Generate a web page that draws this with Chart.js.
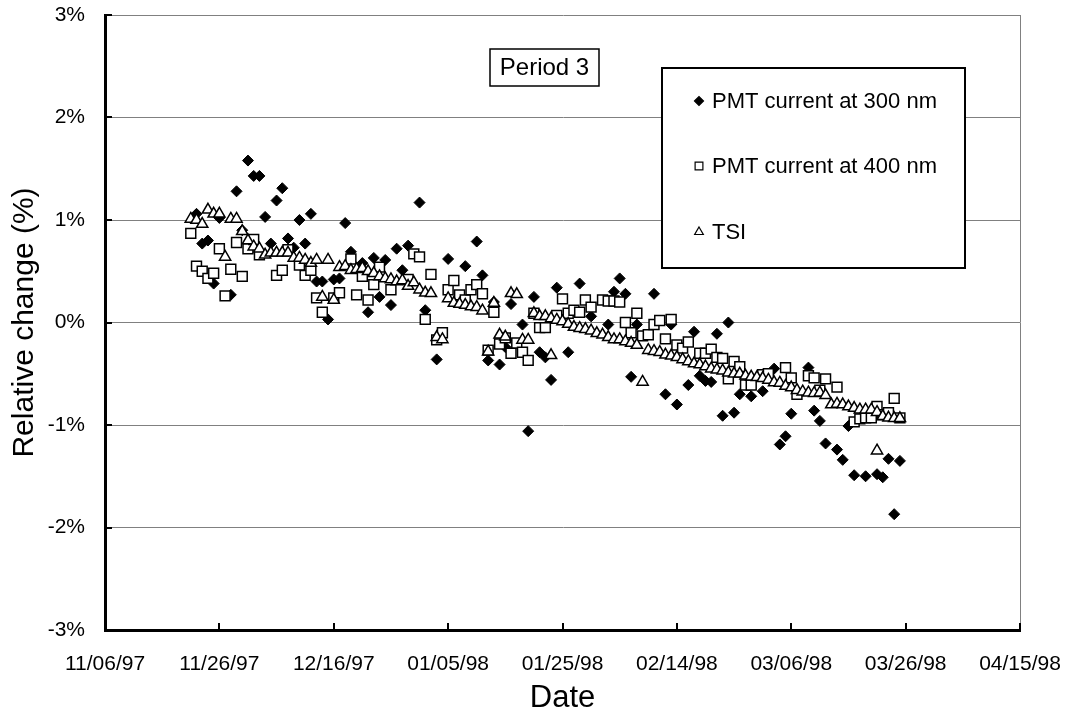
<!DOCTYPE html>
<html>
<head>
<meta charset="utf-8">
<script src="https://cdn.jsdelivr.net/npm/chart.js@4.4.1/dist/chart.umd.min.js"></script>
<style>
  html, body { margin: 0; padding: 0; background: #fff; }
  #wrap { width: 1070px; height: 717px; }
</style>
</head>
<body>
<div id="wrap"><canvas id="chart" width="1070" height="717"></canvas></div>
<script>
/* tick labels of the date axis (every 20 days from 11/06/97) */
const dateLabels = ['11/06/97', '11/26/97', '12/16/97', '01/05/98', '01/25/98',
  '02/14/98', '03/06/98', '03/26/98', '04/15/98'];

/* days counted from 11/06/97 */
const pmt300Days = [16, 17, 18, 19, 20, 22, 23, 24, 25, 26, 27, 28, 29, 30, 31, 32, 33, 34, 35, 36,
  37, 38, 39, 40, 41, 42, 43, 45, 46, 47, 48, 49, 50, 51, 52, 53, 55, 56, 58, 60,
  63, 65, 66, 67, 68, 69, 70, 71, 73, 74, 75, 76, 77, 78, 79, 81, 83, 85, 88, 89,
  90, 91, 92, 93, 96, 98, 99, 100, 102, 103, 104, 105, 106, 107, 108, 109, 110, 111, 113, 115,
  117, 118, 119, 120, 123, 124, 125, 126, 128, 129, 130, 131, 133, 135, 136, 137, 138, 139];
const pmt300 = [1.06, 0.77, 0.80, 0.38, 1.02, 0.27, 1.28, 0.90, 1.58, 1.43, 1.43, 1.03, 0.77, 1.19, 1.31, 0.82, 0.73, 1.00, 0.77, 1.06,
  0.40, 0.40, 0.03, 0.42, 0.43, 0.97, 0.69, 0.58, 0.10, 0.63, 0.25, 0.61, 0.17, 0.72, 0.51, 0.75, 1.17, 0.12, -0.36, 0.62,
  0.55, 0.79, 0.46, -0.37, 0.20, -0.41, -0.24, 0.18, -0.02, -1.06, 0.25, -0.29, -0.34, -0.56, 0.34, -0.29, 0.38, 0.06, -0.02, 0.30,
  0.43, 0.28, -0.53, -0.02, 0.28, -0.70, -0.02, -0.80, -0.61, -0.09, -0.52, -0.57, -0.58, -0.11, -0.91, 0.00, -0.88, -0.70, -0.72, -0.67,
  -0.45, -1.19, -1.11, -0.89, -0.44, -0.86, -0.96, -1.18, -1.24, -1.34, -1.01, -1.49, -1.50, -1.48, -1.51, -1.33, -1.87, -1.35];

const pmt400Days = [15, 16, 17, 18, 19, 20, 21, 22, 23, 24, 25, 26, 27, 30, 31, 32, 34, 35, 36, 37,
  38, 40, 41, 43, 44, 45, 46, 47, 48, 50, 53, 54, 55, 56, 57, 58, 59, 60, 61, 62,
  63, 64, 65, 66, 67, 68, 69, 70, 71, 72, 73, 74, 75, 76, 77, 79, 80, 81, 82, 83,
  84, 85, 87, 88, 89, 90, 91, 92, 93, 94, 95, 96, 97, 98, 99, 100, 101, 102, 104, 105,
  106, 107, 108, 109, 110, 111, 112, 113, 115, 116, 119, 120, 121, 123, 124, 125, 126, 128, 131, 132,
  133, 134, 135, 136, 137, 138, 139];
const pmt400 = [0.87, 0.55, 0.50, 0.43, 0.48, 0.72, 0.26, 0.52, 0.78, 0.45, 0.72, 0.81, 0.66, 0.46, 0.51, 0.71, 0.56, 0.46, 0.51, 0.24,
  0.10, 0.24, 0.29, 0.62, 0.27, 0.45, 0.22, 0.37, 0.54, 0.32, 0.42, 0.67, 0.64, 0.03, 0.47, -0.17, -0.10, 0.32, 0.41, 0.27,
  0.22, 0.32, 0.37, 0.28, -0.27, 0.10, -0.21, -0.15, -0.30, -0.20, -0.29, -0.37, 0.09, -0.05, -0.05, 0.07, 0.23, 0.09, 0.12, 0.10,
  0.22, 0.15, 0.22, 0.21, 0.21, 0.20, 0.00, -0.10, 0.09, -0.13, -0.12, -0.02, 0.02, -0.16, 0.03, -0.22, -0.25, -0.19, -0.30, -0.30,
  -0.26, -0.34, -0.35, -0.55, -0.38, -0.43, -0.61, -0.61, -0.51, -0.50, -0.44, -0.54, -0.70, -0.52, -0.54, -0.66, -0.55, -0.63, -0.97, -0.94,
  -0.93, -0.93, -0.82, -0.90, -0.88, -0.74, -0.93];

const tsiDays = [15, 16, 17, 18, 19, 20, 21, 22, 23, 24, 25, 26, 27, 28, 29, 30, 31, 32, 33, 34,
  35, 36, 37, 38, 39, 40, 41, 42, 43, 44, 45, 46, 47, 48, 49, 50, 51, 52, 53, 54,
  55, 56, 57, 58, 59, 60, 61, 62, 63, 64, 65, 66, 67, 68, 69, 70, 71, 72, 73, 74,
  75, 76, 77, 78, 78, 79, 80, 81, 82, 83, 84, 85, 86, 87, 88, 89, 90, 91, 92, 93,
  94, 95, 96, 97, 98, 99, 100, 101, 102, 103, 104, 105, 106, 107, 108, 109, 110, 111, 112, 113,
  114, 115, 116, 117, 118, 119, 120, 121, 122, 123, 124, 125, 126, 127, 128, 129, 130, 131, 132, 133,
  134, 135, 135, 136, 137, 138, 139];
const tsi = [1.01, 1.00, 0.96, 1.10, 1.06, 1.06, 0.64, 1.01, 1.01, 0.89, 0.80, 0.74, 0.72, 0.66, 0.68, 0.68, 0.68, 0.68, 0.63, 0.63,
  0.61, 0.58, 0.61, 0.25, 0.61, 0.22, 0.54, 0.55, 0.51, 0.52, 0.53, 0.50, 0.48, 0.45, 0.43, 0.42, 0.40, 0.41, 0.355, 0.39,
  0.32, 0.29, 0.285, -0.145, -0.165, 0.235, 0.19, 0.18, 0.17, 0.155, 0.15, 0.115, -0.285, 0.19, -0.12, -0.14, 0.285, 0.275, -0.17, -0.17,
  0.09, 0.06, 0.06, 0.04, -0.32, 0.025, 0.01, -0.015, -0.045, -0.055, -0.065, -0.08, -0.105, -0.12, -0.145, -0.165, -0.165, -0.185, -0.20, -0.22,
  -0.58, -0.27, -0.28, -0.29, -0.315, -0.325, -0.34, -0.36, -0.38, -0.40, -0.41, -0.43, -0.45, -0.46, -0.47, -0.49, -0.50, -0.50, -0.52, -0.53,
  -0.535, -0.545, -0.56, -0.585, -0.59, -0.62, -0.635, -0.66, -0.675, -0.685, -0.69, -0.685, -0.71, -0.80, -0.795, -0.80, -0.82, -0.835, -0.85, -0.85,
  -0.85, -0.875, -1.25, -0.915, -0.93, -0.935, -0.935];

const seriesNames = ['PMT current at 300 nm', 'PMT current at 400 nm', 'TSI'];

function toPoints(days, values) {
  return days.map((d, i) => ({ x: d, y: values[i] }));
}

const FONT = "'Liberation Sans', Arial, sans-serif";

// no extra room for labels sticking out, keeps the plot box where it is
function fixBox(size, key) {
  return scale => {
    scale[key] = size;
    scale.paddingTop = scale.paddingBottom = scale.paddingLeft = scale.paddingRight = 0;
  };
}

// ticks inside the plot + grey right border
const frame = {
  id: 'frame',
  beforeDatasetsDraw(chart) {
    const { ctx, chartArea: a, scales } = chart;
    ctx.save();
    ctx.strokeStyle = '#808080';
    ctx.lineWidth = 1;
    ctx.beginPath();
    ctx.moveTo(a.right + 0.5, a.top);
    ctx.lineTo(a.right + 0.5, a.bottom);
    ctx.stroke();
    ctx.strokeStyle = '#000';
    ctx.lineWidth = 2;
    scales.x.ticks.forEach(t => {
      const px = Math.round(scales.x.getPixelForValue(t.value));
      ctx.beginPath();
      ctx.moveTo(px, a.bottom);
      ctx.lineTo(px, a.bottom - 7);
      ctx.stroke();
    });
    scales.y.ticks.forEach(t => {
      const py = Math.round(scales.y.getPixelForValue(t.value));
      ctx.beginPath();
      ctx.moveTo(a.left, py);
      ctx.lineTo(a.left + 7, py);
      ctx.stroke();
    });
    ctx.restore();
  }
};

// legend box and "Period 3" label
const boxes = {
  id: 'boxes',
  afterDraw(chart) {
    const ctx = chart.ctx;
    ctx.save();
    // Period 3
    ctx.fillStyle = '#fff';
    ctx.fillRect(490, 49, 109, 37);
    ctx.strokeStyle = '#000';
    ctx.lineWidth = 1.5;
    ctx.strokeRect(490, 49, 109, 37);
    ctx.fillStyle = '#000';
    ctx.font = '24px ' + FONT;
    ctx.textAlign = 'center';
    ctx.textBaseline = 'middle';
    ctx.fillText('Period 3', 544.5, 68);

    // legend
    ctx.fillStyle = '#fff';
    ctx.fillRect(662, 68, 303, 200);
    ctx.lineWidth = 2;
    ctx.strokeRect(662, 68, 303, 200);
    const rows = [101, 166, 232];
    const styles = [
      { pointStyle: 'rectRot', radius: 4.5, fill: '#000' },
      { pointStyle: 'rect', radius: 5.5, fill: '#fff' },
      { pointStyle: 'triangle', radius: 5, fill: '#fff' }
    ];
    ctx.font = '22px ' + FONT;
    ctx.textAlign = 'left';
    rows.forEach((y, i) => {
      ctx.fillStyle = styles[i].fill;
      ctx.strokeStyle = '#000';
      ctx.lineWidth = 1.2;
      Chart.helpers.drawPoint(ctx, { pointStyle: styles[i].pointStyle, radius: styles[i].radius, rotation: 0, borderWidth: 1.2 }, 699, y);
      ctx.fillStyle = '#000';
      ctx.fillText(seriesNames[i], 712, y + 1);
    });
    ctx.restore();
  }
};

new Chart(document.getElementById('chart'), {
  type: 'scatter',
  data: {
    datasets: [
      {
        label: seriesNames[0],
        data: toPoints(pmt300Days, pmt300),
        pointStyle: 'rectRot',
        pointRadius: 5.5,
        backgroundColor: '#000',
        borderColor: '#000',
        borderWidth: 1,
        order: 2
      },
      {
        label: seriesNames[1],
        data: toPoints(pmt400Days, pmt400),
        pointStyle: 'rect',
        pointRadius: 7,
        backgroundColor: '#fff',
        borderColor: '#000',
        borderWidth: 1.5,
        order: 1
      },
      {
        label: seriesNames[2],
        data: toPoints(tsiDays, tsi),
        pointStyle: 'triangle',
        pointRadius: 6.5,
        backgroundColor: '#fff',
        borderColor: '#000',
        borderWidth: 1.5,
        order: 0
      }
    ]
  },
  options: {
    responsive: false,
    animation: false,
    events: [],
    layout: { padding: { top: 15, right: 50, left: 0, bottom: 0 } },
    plugins: {
      legend: { display: false },
      tooltip: { enabled: false }
    },
    scales: {
      x: {
        type: 'linear',
        min: 0,
        max: 160,
        afterFit: fixBox(87, 'height'),
        grid: { display: false, drawTicks: false },
        border: { display: true, color: '#000', width: 3 },
        ticks: {
          stepSize: 20,
          autoSkip: false,
          maxRotation: 0,
          padding: 22,
          color: '#000',
          font: { family: FONT, size: 21 },
          callback: v => dateLabels[v / 20]
        },
        title: {
          display: true,
          text: 'Date',
          color: '#000',
          font: { family: FONT, size: 31 },
          padding: { top: 0, bottom: 0 }
        }
      },
      y: {
        min: -3,
        max: 3,
        afterFit: fixBox(105, 'width'),
        grid: { color: '#808080', lineWidth: 1, drawTicks: false },
        border: { display: true, color: '#000', width: 3 },
        ticks: {
          stepSize: 1,
          padding: 20,
          color: '#000',
          font: { family: FONT, size: 21 },
          callback: v => v + '%'
        },
        title: {
          display: true,
          text: 'Relative change (%)',
          color: '#000',
          font: { family: FONT, size: 30 },
          padding: { top: 7, bottom: 0 }
        }
      }
    }
  },
  plugins: [frame, boxes]
});
</script>
</body>
</html>
